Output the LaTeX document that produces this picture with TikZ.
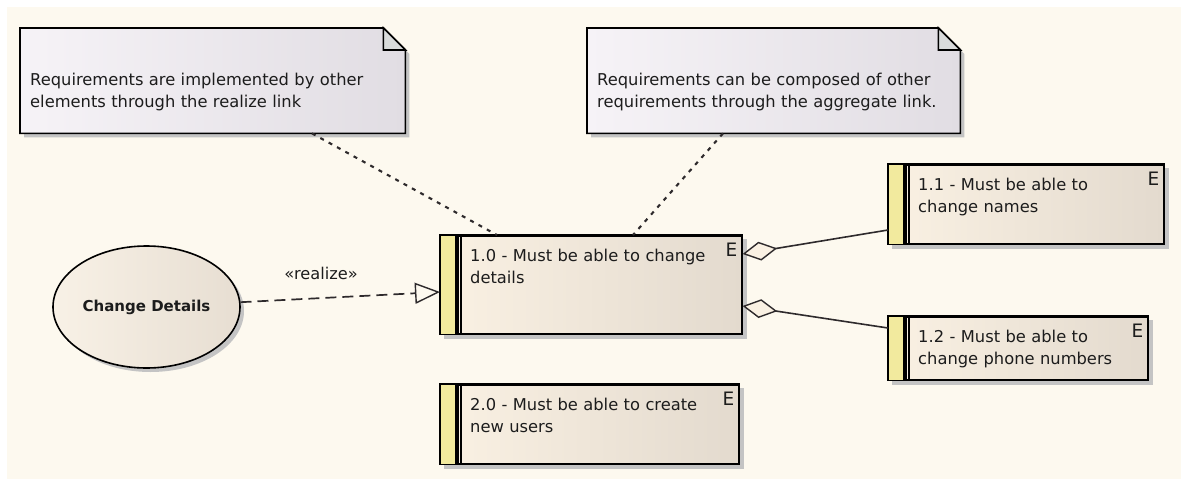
\documentclass[tikz,border=0pt]{standalone}
\usepackage{fontspec}
\setmainfont{DejaVu Sans}
\usetikzlibrary{arrows.meta,shapes.geometric}
\definecolor{bg}{HTML}{FDF9EF}
\definecolor{reqL}{HTML}{FAF1E3}
\definecolor{reqR}{HTML}{E3DACE}
\definecolor{noteL}{HTML}{F6F3F7}
\definecolor{noteR}{HTML}{E1DDE3}
\definecolor{ucL}{HTML}{F8F1E6}
\definecolor{ucR}{HTML}{E7DED2}
\definecolor{strip}{HTML}{F2EA9E}
\definecolor{ln}{HTML}{2E2A2C}
\definecolor{shad}{HTML}{C4C4C4}
\definecolor{fold}{HTML}{D9DBDB}
\definecolor{txt}{HTML}{1C1C1C}
\pgfdeclarelayer{bglayer}
\pgfdeclarelayer{shadowlayer}
\pgfsetlayers{bglayer,shadowlayer,main}
\tikzset{
  reqbox/.style={rectangle, draw=black, line width=1.6pt, left color=reqL, right color=reqR, anchor=north west, inner sep=0pt},
  lbl/.style={font=\fontsize{16.3pt}{22pt}\selectfont, text=txt, align=left, text width=420pt, inner sep=0pt},
  elbl/.style={font=\fontsize{18.5pt}{20pt}\selectfont, text=txt, anchor=north east, inner sep=0pt},
  notebox/.style={rectangle, anchor=north west, inner sep=0pt},
  notelink/.style={draw=ln, line width=2.1pt, dash pattern=on 4pt off 5.5pt},
  agg/.style={draw=ln, line width=1.6pt, {Diamond[length=35pt, width=19pt, fill=reqL, line width=1.4pt]}-},
  realizeline/.style={draw=ln, line width=1.7pt, dash pattern=on 11pt off 6pt, -{Triangle[length=25pt, width=21pt, fill=bg, line width=1.4pt]}},
}
\newcommand\reqel[6]{%
  \node[reqbox, minimum width=#4pt, minimum height=#5pt] (#1) at (#2,#3) {};
  \begin{pgfonlayer}{shadowlayer}
    \fill[shad] ([shift={(4,4)}]#1.north west) rectangle ([shift={(4,4)}]#1.south east);
  \end{pgfonlayer}
  \fill[strip] (#1.north west) rectangle ([shift={(15.5,0)}]#1.south west);
  \draw[line width=3.6pt] ([shift={(17,0)}]#1.north west) -- ([shift={(17,0)}]#1.south west);
  \draw[line width=1.3pt] ([shift={(21,0)}]#1.north west) -- ([shift={(21,0)}]#1.south west);
  \draw[line width=1.6pt] (#1.north west) rectangle (#1.south east);
  \node[lbl, anchor=base west] (#1t) at ([shift={(30,26)}]#1.north west) {#6};
  \node[elbl] (#1e) at ([shift={(-5,8)}]#1.north east) {E};
}
\newcommand\noteel[6]{%
  \node[notebox, minimum width=#4pt, minimum height=#5pt] (#1) at (#2,#3) {};
  \begin{pgfonlayer}{shadowlayer}
    \fill[shad] ([shift={(4,4)}]#1.north west) -- ([shift={(-18,4)}]#1.north east) -- ([shift={(4,26)}]#1.north east) -- ([shift={(4,4)}]#1.south east) -- ([shift={(4,4)}]#1.south west) -- cycle;
  \end{pgfonlayer}
  \path[left color=noteL, right color=noteR, draw=black, line width=1.6pt] (#1.north west) -- ([shift={(-22,0)}]#1.north east) -- ([shift={(0,22)}]#1.north east) -- (#1.south east) -- (#1.south west) -- cycle;
  \filldraw[fill=fold, draw=black, line width=1.6pt, line join=miter] ([shift={(-22,0)}]#1.north east) -- ([shift={(-22,22)}]#1.north east) -- ([shift={(0,22)}]#1.north east) -- cycle;
  \node[lbl, anchor=base west] (#1t) at ([shift={(10,57)}]#1.north west) {#6};
}
\begin{document}
\begin{tikzpicture}[x=1pt,y=-1pt]
\useasboundingbox (0,0) rectangle (1181,479);
\begin{pgfonlayer}{bglayer}
  \fill[white] (0,0) rectangle (1181,479);
  \fill[bg] (7,7) rectangle (1181,479);
\end{pgfonlayer}

\noteel{n1}{20}{28}{385}{105}{Requirements are implemented by other\\elements through the realize link}
\noteel{n2}{587}{28}{373}{105}{Requirements can be composed of other\\requirements through the aggregate link.}

\reqel{r10}{440}{235}{301}{98}{1.0 - Must be able to change\\details}
\reqel{r11}{888}{164}{275}{79}{1.1 - Must be able to\\change names}
\reqel{r12}{888}{316}{259}{63}{1.2 - Must be able to\\change phone numbers}
\reqel{r20}{440}{384}{298}{79}{2.0 - Must be able to create\\new users}

\node[ellipse, draw=black, line width=1.6pt, left color=ucL, right color=ucR, minimum width=187pt, minimum height=122pt, inner sep=0pt] (uc) at (146.5,307) {};
\begin{pgfonlayer}{shadowlayer}
  \fill[shad] ([shift={(4,4)}]uc.center) ellipse [x radius=93.5pt, y radius=61pt];
\end{pgfonlayer}
\node[font=\bfseries\fontsize{15pt}{18pt}\selectfont, text=txt, inner sep=0pt] (uct) at (uc.center) {Change Details};

\draw[notelink] ([shift={(292,0)}]n1.south west) -- ([shift={(57,0)}]r10.north west);
\draw[notelink] ([shift={(136,0)}]n2.south west) -- ([shift={(193,0)}]r10.north west);

\draw[agg] ([shift={(0,19)}]r10.north east) -- ([shift={(0,66)}]r11.north west);
\draw[agg] ([shift={(0,71)}]r10.north east) -- ([shift={(0,12)}]r12.north west);

\draw[realizeline] (uc) -- ([shift={(0,57)}]r10.north west);
\node[font=\fontsize{16.2pt}{20pt}\selectfont, text=txt, inner sep=0pt] (rl) at (321,273) {«realize»};
\end{tikzpicture}
\end{document}
